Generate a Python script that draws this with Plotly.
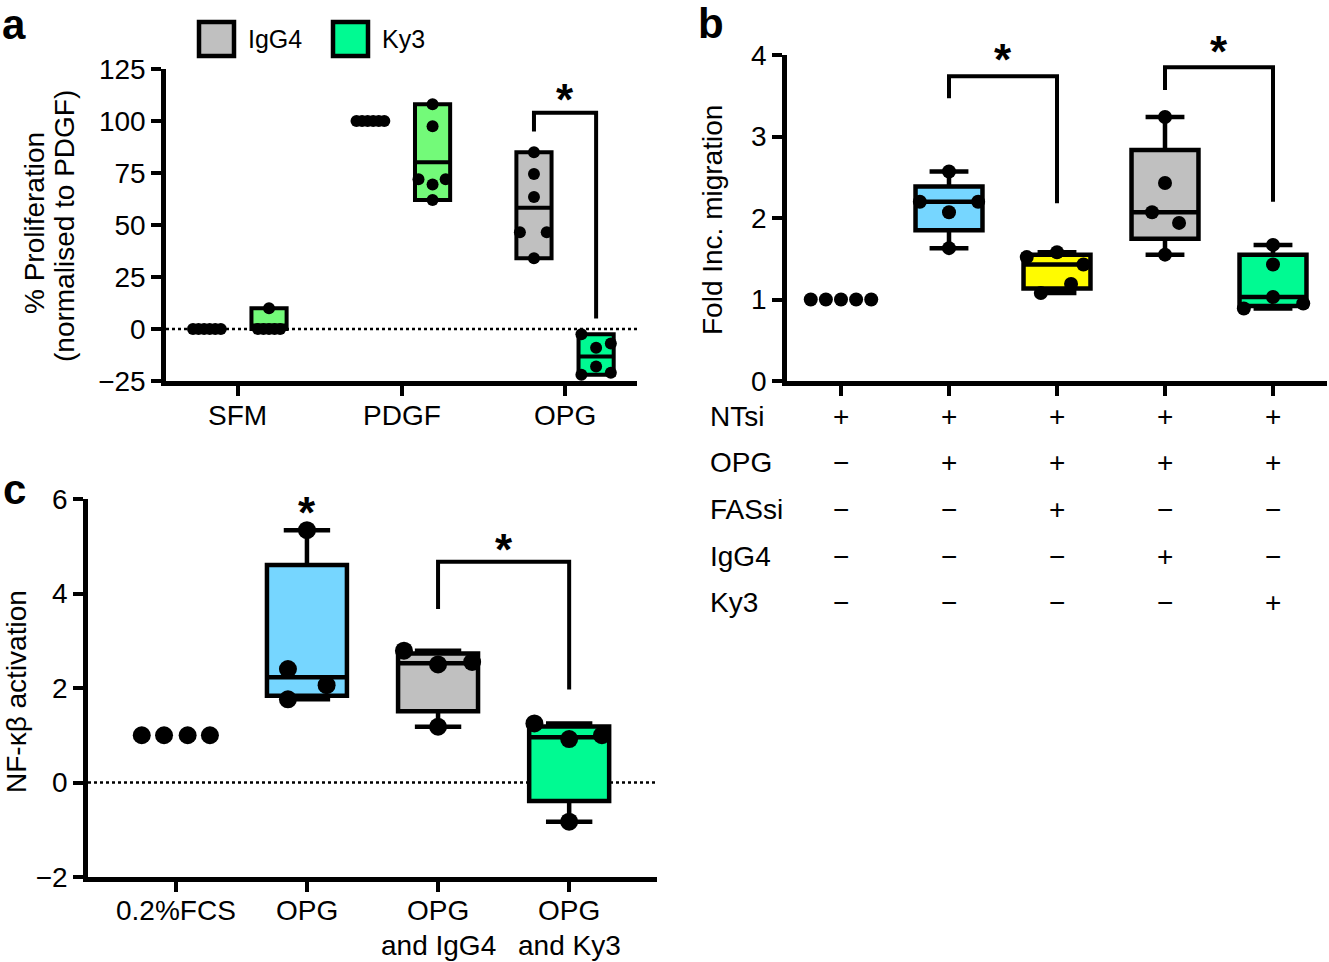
import math
import plotly.graph_objects as go

FONT = "Liberation Sans, Arial, Helvetica, sans-serif"
W, H = 1329, 962

# ---------------- Panel a data ----------------
a_categories = ["SFM", "PDGF", "OPG"]
a_igg4_sfm = [0, 0, 0, 0, 0, 0]
a_igg4_pdgf = [100, 100, 100, 100, 100, 100]
a_igg4_opg = [85, 74.5, 63.5, 46.5, 46.5, 34]
a_ky3_sfm = [10, 0, 0, 0, 0, 0]
a_ky3_pdgf = [108, 97.5, 72, 72, 69.5, 62]
a_ky3_opg = [-2.5, -7, -9, -18, -21, -22]
a_yticks = [-25, 0, 25, 50, 75, 100, 125]

# ---------------- Panel b data ----------------
b_ctrl = [1, 1, 1, 1, 1]
b_opg = [2.57, 2.2, 2.2, 2.07, 1.63]
b_opg_fassi = [1.58, 1.52, 1.43, 1.19, 1.08]
b_opg_igg4 = [3.24, 2.43, 2.07, 1.94, 1.55]
b_opg_ky3 = [1.67, 1.43, 1.03, 0.95, 0.89]
b_yticks = [0, 1, 2, 3, 4]
b_row_labels = ["NTsi", "OPG", "FASsi", "IgG4", "Ky3"]
b_row_ntsi = ["+", "+", "+", "+", "+"]
b_row_opg = ["\u2212", "+", "+", "+", "+"]
b_row_fassi = ["\u2212", "\u2212", "+", "\u2212", "\u2212"]
b_row_igg4 = ["\u2212", "\u2212", "\u2212", "+", "\u2212"]
b_row_ky3 = ["\u2212", "\u2212", "\u2212", "\u2212", "+"]

# ---------------- Panel c data ----------------
c_categories = ["0.2%FCS", "OPG", "OPG<br>and IgG4", "OPG<br>and Ky3"]
c_fcs = [1, 1, 1, 1]
c_opg = [5.34, 2.40, 2.06, 1.76]
c_opg_igg4 = [2.79, 2.55, 2.50, 1.18]
c_opg_ky3 = [1.25, 1.00, 0.92, -0.83]
c_yticks = [-2, 0, 2, 4, 6]

# ---------------- colours ----------------
GRAY = "#C0C0C0"
FLORA = "#73FA79"
SEAFOAM = "#00FA92"
SKY = "#76D6FF"
LEMON = "#FFFB00"

# horizontal scatter offsets of the dots (style, in category units)
a_dx_flat = [-0.085, -0.051, -0.017, 0.017, 0.051, 0.085]
a_dx_sfm_ky3 = [0, -0.068, -0.034, 0, 0.034, 0.068]
a_dx_pdgf_ky3 = [0, 0, -0.086, 0.08, 0, 0]
a_dx_opg_igg4 = [0, 0, 0, -0.086, 0.078, 0]
a_dx_opg_ky3 = [-0.09, 0.09, 0, 0, 0.09, -0.09]
b_dx_ctrl = [-0.28, -0.14, 0, 0.14, 0.28]
b_dx_opg = [0, -0.27, 0.27, 0, 0]
b_dx_fassi = [0, -0.28, 0.245, 0.13, -0.15]
b_dx_igg4 = [0, 0, -0.12, 0.13, 0]
b_dx_ky3 = [0, 0, 0, 0.28, -0.27]
c_dx_fcs = [-0.26, -0.09, 0.09, 0.26]
c_dx_opg = [0, -0.145, 0.15, -0.145]
c_dx_igg4 = [-0.26, 0.26, 0, 0]
c_dx_ky3 = [-0.265, 0.25, 0, 0]


def pq(vals, p):
    s = sorted(vals)
    n = len(s)
    pos = p * (n + 1)
    if pos <= 1:
        return s[0]
    if pos >= n:
        return s[-1]
    lo = int(math.floor(pos))
    fr = pos - lo
    return s[lo - 1] + fr * (s[lo] - s[lo - 1])


fig = go.Figure()


def add_box(vals, pos, color, xa, ya, width, ww, lw, kind):
    if max(vals) == min(vals):
        return
    if kind == "minmax":
        q1, q3 = min(vals), max(vals)
        med = sum(vals) / len(vals)
        ww = 0
    else:
        q1, med, q3 = pq(vals, 0.25), pq(vals, 0.5), pq(vals, 0.75)
    fig.add_trace(go.Box(
        x=[pos], q1=[q1], median=[med], q3=[q3],
        lowerfence=[min(vals)], upperfence=[max(vals)],
        width=width, whiskerwidth=ww, boxpoints=False,
        fillcolor=color, line=dict(color="black", width=lw),
        xaxis=xa, yaxis=ya, hoverinfo="skip", showlegend=False))


def add_dots(vals, pos, dxs, xa, ya, size):
    fig.add_trace(go.Scatter(
        x=[pos + d for d in dxs], y=vals, mode="markers",
        marker=dict(color="black", size=size, line=dict(width=0)),
        xaxis=xa, yaxis=ya, cliponaxis=False, hoverinfo="skip", showlegend=False))


# ----- panel a -----
A_OFF = 0.19
a_sets = [
    (a_igg4_sfm, 0 - A_OFF, GRAY, a_dx_flat),
    (a_ky3_sfm, 0 + A_OFF, FLORA, a_dx_sfm_ky3),
    (a_igg4_pdgf, 1 - A_OFF, GRAY, a_dx_flat),
    (a_ky3_pdgf, 1 + A_OFF, FLORA, a_dx_pdgf_ky3),
    (a_igg4_opg, 2 - A_OFF, GRAY, a_dx_opg_igg4),
    (a_ky3_opg, 2 + A_OFF, SEAFOAM, a_dx_opg_ky3),
]
for vals, pos, col, dx in a_sets:
    add_box(vals, pos, col, "x", "y", 0.215, 0, 4, "minmax")
for vals, pos, col, dx in a_sets:
    add_dots(vals, pos, dx, "x", "y", 12)

# ----- panel b -----
b_sets = [
    (b_ctrl, 0, "white", b_dx_ctrl),
    (b_opg, 1, SKY, b_dx_opg),
    (b_opg_fassi, 2, LEMON, b_dx_fassi),
    (b_opg_igg4, 3, GRAY, b_dx_igg4),
    (b_opg_ky3, 4, SEAFOAM, b_dx_ky3),
]
for vals, pos, col, dx in b_sets:
    add_box(vals, pos, col, "x2", "y2", 0.62, 0.58, 4.5, "quart")
for vals, pos, col, dx in b_sets:
    add_dots(vals, pos, dx, "x2", "y2", 14)

# ----- panel c -----
c_sets = [
    (c_fcs, 0, "white", c_dx_fcs),
    (c_opg, 1, SKY, c_dx_opg),
    (c_opg_igg4, 2, GRAY, c_dx_igg4),
    (c_opg_ky3, 3, SEAFOAM, c_dx_ky3),
]
for vals, pos, col, dx in c_sets:
    add_box(vals, pos, col, "x3", "y3", 0.61, 0.58, 4.5, "quart")
for vals, pos, col, dx in c_sets:
    add_dots(vals, pos, dx, "x3", "y3", 18)

# ---------------- axes ----------------
tickfont = dict(family=FONT, size=28, color="black")
common = dict(showgrid=False, zeroline=False, showline=True, linecolor="black",
              linewidth=4.5, ticks="outside", ticklen=10, tickwidth=4,
              tickcolor="black", tickfont=tickfont, fixedrange=True,
              automargin=False)

fig.update_layout(
    template="none",
    width=W, height=H, margin=dict(l=0, r=0, t=0, b=0, autoexpand=False),
    paper_bgcolor="white", plot_bgcolor="white", showlegend=False,
    font=dict(family=FONT, size=28, color="black"),
    xaxis=dict(common, domain=[166 / W, 637 / W], range=[-0.44, 2.44],
               tickvals=[0, 1, 2], showticklabels=False, anchor="y"),
    yaxis=dict(common, domain=[1 - 381 / H, 1 - 69 / H], range=[-25, 125],
               tickvals=a_yticks, anchor="x"),
    xaxis2=dict(common, domain=[787 / W, 1327 / W], range=[-0.5, 4.5],
                tickvals=[0, 1, 2, 3, 4], showticklabels=False, anchor="y2"),
    yaxis2=dict(common, domain=[1 - 381 / H, 1 - 55 / H], range=[0, 4],
                tickvals=b_yticks, anchor="x2"),
    xaxis3=dict(common, domain=[88 / W, 657 / W], range=[-0.67, 3.67],
                tickvals=[0, 1, 2, 3], showticklabels=False, anchor="y3"),
    yaxis3=dict(common, domain=[1 - 877 / H, 1 - 499 / H], range=[-2, 6],
                tickvals=c_yticks, anchor="x3"),
)

shapes = []
# dotted zero lines
for xr, yr in (("x domain", "y"), ("x3 domain", "y3")):
    shapes.append(dict(type="line", xref=xr, yref=yr, x0=0, x1=1, y0=0, y1=0,
                       line=dict(color="black", width=2.5, dash="dot"), layer="below"))

# significance brackets: (xref, yref, x_left, y_left_bottom, y_top, x_right, y_right_bottom)
brackets = [
    ("x", "y", 2 - A_OFF, 95, 104, 2 + A_OFF, 5),
    ("x2", "y2", 1, 3.47, 3.74, 2, 2.18),
    ("x2", "y2", 3, 3.57, 3.85, 4, 2.2),
    ("x3", "y3", 2, 3.67, 4.67, 3, 1.97),
]
for xr, yr, xl, yl, yt, xrr, yrb in brackets:
    shapes.append(dict(type="path", xref=xr, yref=yr,
                       path=f"M {xl},{yl} L {xl},{yt} L {xrr},{yt} L {xrr},{yrb}",
                       line=dict(color="black", width=4)))

# legend squares
shapes.append(dict(type="rect", xref="paper", yref="paper", x0=199 / W, x1=234 / W,
                   y0=1 - 56 / H, y1=1 - 22 / H, fillcolor=GRAY,
                   line=dict(color="black", width=4.5)))
shapes.append(dict(type="rect", xref="paper", yref="paper", x0=333 / W, x1=368 / W,
                   y0=1 - 56 / H, y1=1 - 22 / H, fillcolor=SEAFOAM,
                   line=dict(color="black", width=4.5)))

ann = []
# legend texts
legfont = dict(family=FONT, size=25, color="black")
ann.append(dict(text="IgG4", xref="paper", yref="paper", x=246 / W, y=1 - 39 / H,
                xanchor="left", yanchor="middle", showarrow=False, font=legfont))
ann.append(dict(text="Ky3", xref="paper", yref="paper", x=380 / W, y=1 - 39 / H,
                xanchor="left", yanchor="middle", showarrow=False, font=legfont))

# category labels below the x axes (placed on the axes' own category positions)
for i, lab in enumerate(a_categories):
    ann.append(dict(text=lab, xref="x", yref="paper", x=i, y=1 - 415 / H,
                    xanchor="center", yanchor="middle", showarrow=False, font=tickfont))
for i, lab in enumerate(c_categories):
    for j, line in enumerate(lab.split("<br>")):
        ann.append(dict(text=line, xref="x3", yref="paper", x=i, y=1 - (910 + 35 * j) / H,
                        xanchor="center", yanchor="middle", showarrow=False, font=tickfont))

# stars: (xref, yref, x, y)
stars = [("x", "y", 2.0, 113.5), ("x2", "paper", 1.5, 1 - 52 / H),
         ("x2", "paper", 3.5, 1 - 45 / H),
         ("x3", "y3", 2.5, 5.09), ("x3", "y3", 1.0, 5.87)]
for xr, yr, x, y in stars:
    ann.append(dict(text="<b>*</b>", xref=xr, yref=yr, x=x, y=y, xanchor="center",
                    yanchor="middle", yshift=-7, showarrow=False,
                    font=dict(family=FONT, size=44, color="black")))

# panel letters
for t, px, py in (("a", 14, 24), ("b", 711, 23), ("c", 14, 489)):
    ann.append(dict(text=f"<b>{t}</b>", xref="paper", yref="paper", x=px / W, y=1 - py / H,
                    xanchor="center", yanchor="middle", showarrow=False,
                    font=dict(family=FONT, size=42, color="black")))

# y-axis titles
for t, px, py in (("% Proliferation", 34, 223), ("(normalised to PDGF)", 65, 226),
                  ("Fold Inc. migration", 712, 220), ("NF-\u03ba\u03b2 activation", 16, 692)):
    ann.append(dict(text=t, xref="paper", yref="paper", x=px / W, y=1 - py / H,
                    xanchor="center", yanchor="middle", textangle=-90, showarrow=False,
                    font=tickfont))

# panel b condition table
row_y = [416, 462, 509, 556, 602]
rows = [b_row_ntsi, b_row_opg, b_row_fassi, b_row_igg4, b_row_ky3]
for lab, py, signs in zip(b_row_labels, row_y, rows):
    ann.append(dict(text=lab, xref="paper", yref="paper", x=708 / W, y=1 - py / H,
                    xanchor="left", yanchor="middle", showarrow=False, font=tickfont))
    for i, s in enumerate(signs):
        ann.append(dict(text=s, xref="x2", yref="paper", x=i, y=1 - py / H,
                        xanchor="center", yanchor="middle", showarrow=False, font=tickfont))

fig.update_layout(shapes=shapes, annotations=ann)
fig.write_html("out.html",
               config={"displayModeBar": False, "staticPlot": False},
               post_script="document.body.style.margin='0px';document.body.style.padding='0px';")
